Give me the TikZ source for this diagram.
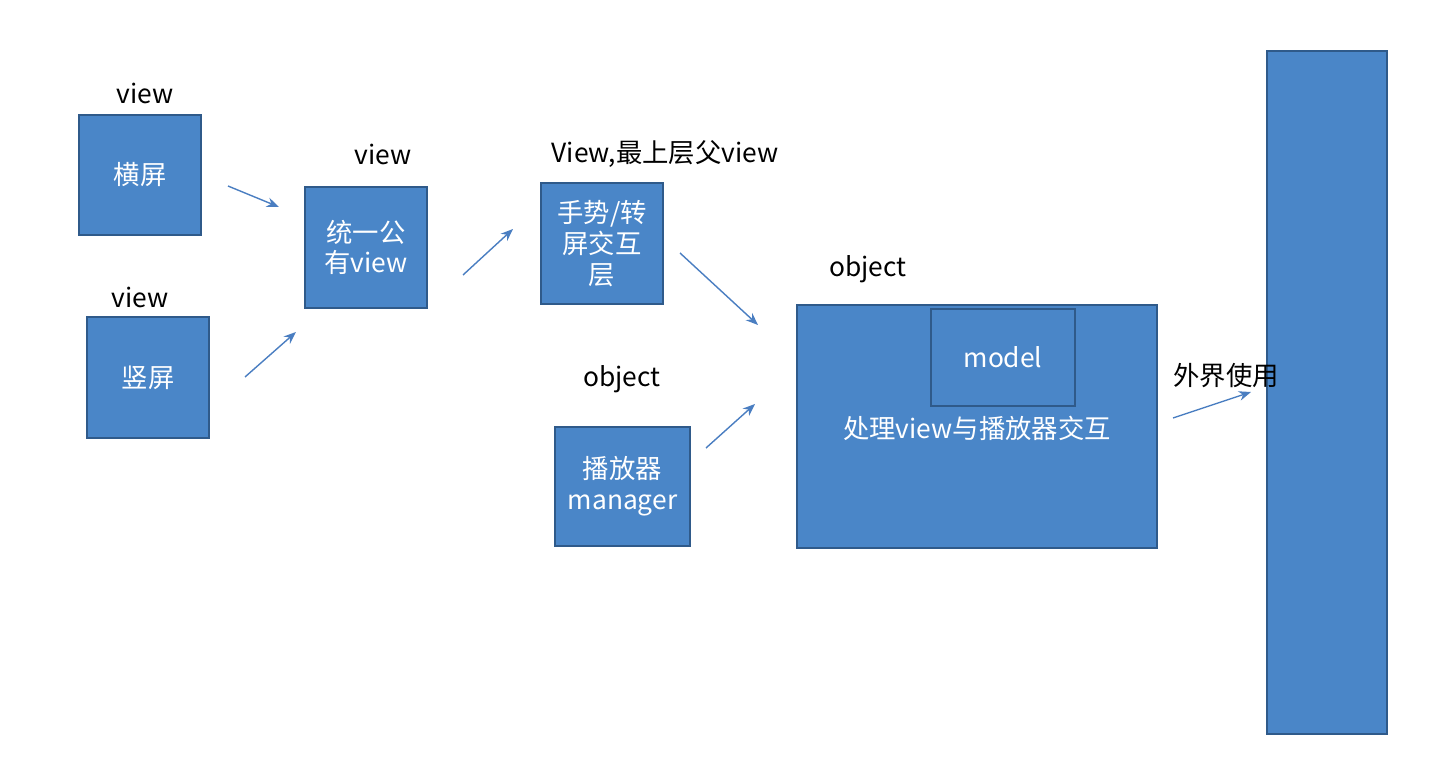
\documentclass[tikz,border=0pt]{standalone}
\usepackage{fontspec}
\setmainfont{Noto Sans CJK SC}
\definecolor{boxfill}{HTML}{4A86C8}
\definecolor{boxline}{HTML}{2F5A8A}
\definecolor{arrowc}{HTML}{4A7EC1}
\usetikzlibrary{arrows.meta}
\tikzset{
	blockbox/.style={draw=boxline,fill=boxfill,line width=1.1pt,text=white,align=center,inner sep=0pt,font=\fontsize{15}{17.5}\selectfont},
	tag/.style={text=black,font=\fontsize{15}{17.5}\selectfont,inner sep=0pt},
	flow/.style={draw=arrowc,line width=0.8pt,-{Stealth[length=7pt,width=5.5pt]}}
}
\begin{document}
\begin{tikzpicture}[x=0.02cm,y=-0.02cm]
		\useasboundingbox (0,0) rectangle (1434,770);
		% blocks
		\node [blockbox,minimum width=2.44cm,minimum height=2.4cm] (hengping) at (140,175) {横屏};
		\node [blockbox,minimum width=2.44cm,minimum height=2.42cm] (shuping) at (148,377.5) {竖屏};
		\node [blockbox,minimum width=2.44cm,minimum height=2.42cm] (tongyi) at (366,247.5) {统一公\\有view};
		\node [blockbox,minimum width=2.44cm,minimum height=2.42cm] (shoushi) at (602,243.5) {手势/转\\屏交互\\层};
		\node [blockbox,minimum width=2.7cm,minimum height=2.38cm] (bofangqi) at (622.5,486.5) {播放器\\manager};
		\node [blockbox,minimum width=7.2cm,minimum height=4.86cm] (chuli) at (977,426.5) {};
		\node [blockbox,minimum width=2.88cm,minimum height=1.94cm] (model) at (1003,357.5) {model};
		\node [tag,text=white] (chulitext) at (977,428) {处理view与播放器交互};
		\node [blockbox,minimum width=2.4cm,minimum height=13.66cm] (waijie) at (1327,392.5) {};
		% labels
		\node [tag] (lbl1) at (145,93) {view};
		\node [tag] (lbl2) at (140,297) {view};
		\node [tag] (lbl3) at (383,154) {view};
		\node [tag] (lbl4) at (665,154) {View,最上层父view};
		\node [tag] (lbl5) at (622,379) {object};
		\node [tag] (lbl6) at (868,269) {object};
		\node [tag] (lbl7) at (1226,376) {外界使用};
		% arrows
		\coordinate (a1) at (228,186);
		\coordinate (b1) at (279,207);
		\coordinate (a2) at (245,377);
		\coordinate (b2) at (296,332);
		\coordinate (a3) at (463,275);
		\coordinate (b3) at (513,229);
		\coordinate (a4) at (680,253);
		\coordinate (b4) at (758,325);
		\coordinate (a5) at (706,448);
		\coordinate (b5) at (755,404);
		\coordinate (a6) at (1173,418);
		\coordinate (b6) at (1251,392);
		\foreach \i in {1,...,6}
			\draw [flow] (a\i) -- (b\i);
	\end{tikzpicture}
\end{document}
